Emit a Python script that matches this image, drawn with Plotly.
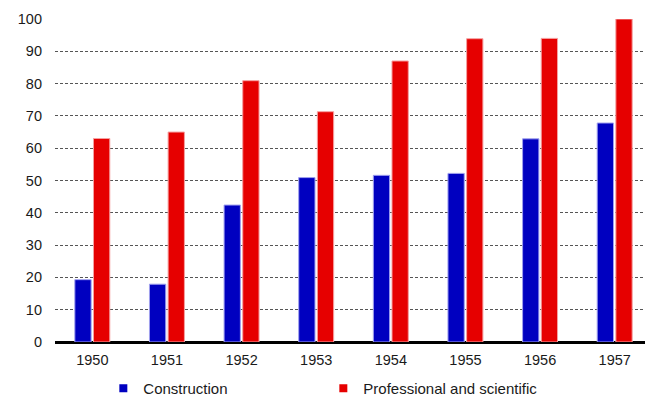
import plotly.graph_objects as go

years = ["1950", "1951", "1952", "1953", "1954", "1955", "1956", "1957"]
construction = [19.3, 17.9, 42.4, 50.9, 51.6, 52.2, 62.9, 67.8]
professional = [63.0, 65.0, 80.9, 71.3, 87.0, 93.9, 94.0, 100.0]
y_ticks = [0, 10, 20, 30, 40, 50, 60, 70, 80, 90, 100]
names = ["Construction", "Professional and scientific"]
colors = ["#0000C0", "#E60000"]
borders = ["#a0a0ee", "#f5a0a0"]

fig = go.Figure()
for name, vals, c, b in zip(names, [construction, professional], colors, borders):
    fig.add_trace(go.Bar(x=years, y=vals, name=name, showlegend=False,
                         marker=dict(color=c, line=dict(color=b, width=1))))
# legend entries with small square keys
for name, c in zip(names, colors):
    fig.add_trace(go.Scatter(x=[None], y=[None], mode="markers", name=name,
                             marker=dict(symbol="square", size=8, color=c)))

fig.update_layout(
    width=645, height=388,
    margin=dict(l=47, r=1, t=11, b=53.5, autoexpand=False),
    paper_bgcolor="white", plot_bgcolor="white",
    barmode="group", bargap=0.5, bargroupgap=0.126,
    font=dict(family="Liberation Sans, Arial, sans-serif", size=14.5, color="#1a1a1a"),
    showlegend=True,
    legend=dict(orientation="h", xref="container", x=0.1478, xanchor="left",
                yref="paper", y=-0.093, yanchor="top",
                font=dict(size=15, color="#1a1a1a"), entrywidth=175,
                bgcolor="rgba(0,0,0,0)"),
)
fig.update_xaxes(showgrid=False, showline=False, ticks="", tickfont=dict(size=14.5),
                 ticklabelstandoff=7, automargin=False)
fig.update_yaxes(range=[0, 100], tickvals=y_ticks, showgrid=True,
                 gridcolor="#555555", gridwidth=1, griddash="3px,2px",
                 zeroline=True, zerolinecolor="black", zerolinewidth=2.5,
                 ticks="", ticklabelstandoff=12, tickfont=dict(size=14.5),
                 automargin=False)

fig.write_html("out.html")
